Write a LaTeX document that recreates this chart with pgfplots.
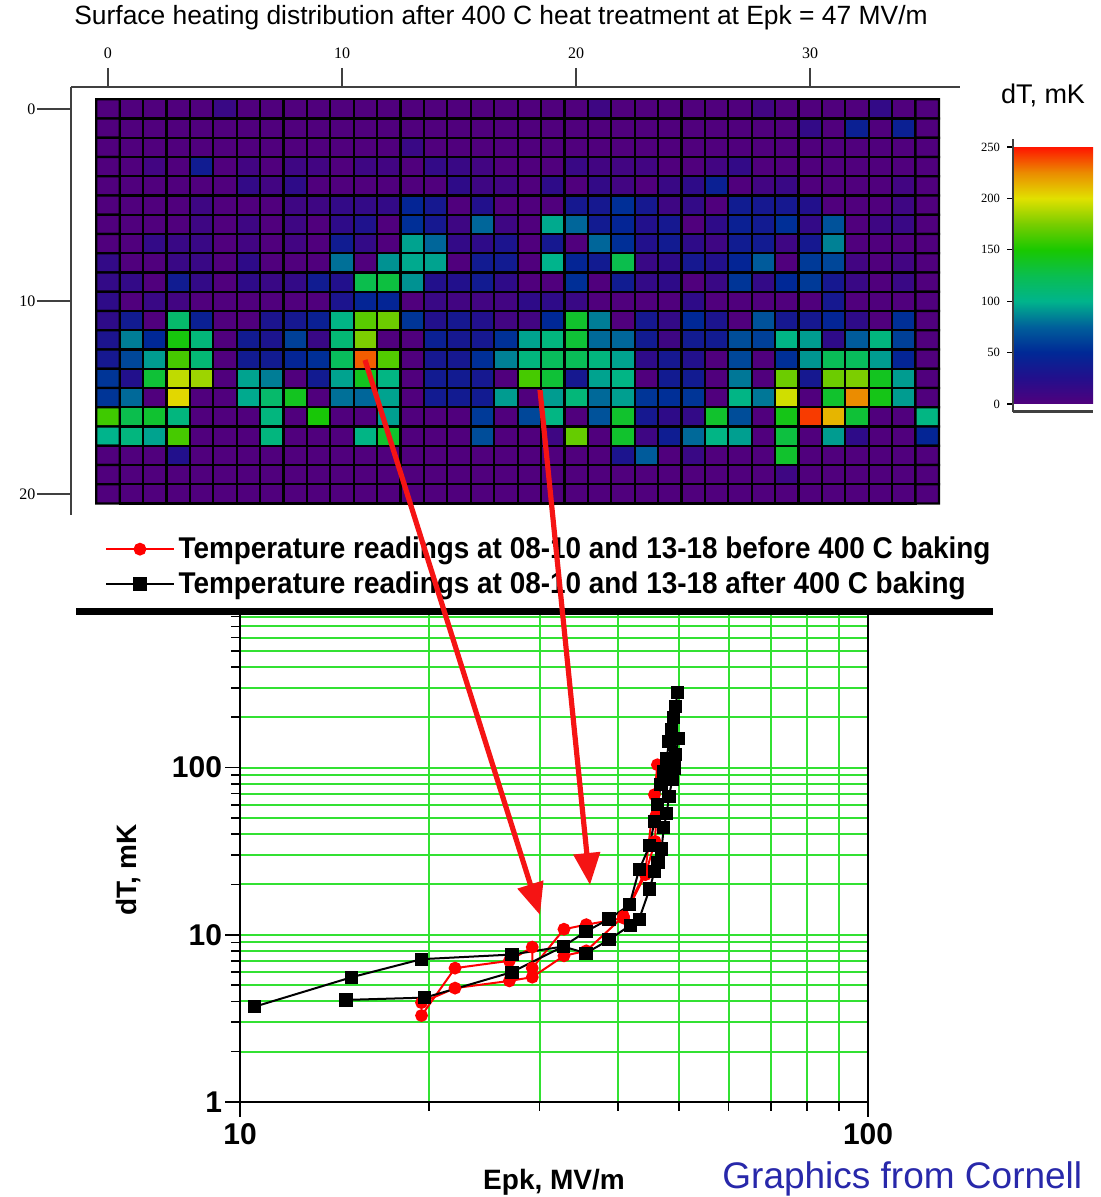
\documentclass[border=0pt]{standalone}
\usepackage{fontspec}
\setmainfont{Liberation Sans}
\newfontfamily\seriffont{Liberation Serif}
\newfontfamily\narrowfont[FakeStretch=0.93]{Liberation Sans}
\usepackage{pgfplots}
\pgfplotsset{compat=1.18}
\usetikzlibrary{arrows.meta}
\definecolor{gridgreen}{RGB}{50,225,50}
\definecolor{cornellblue}{RGB}{40,40,170}
\definecolor{arrred}{RGB}{245,20,20}
\pgfplotsset{colormap={heat}{rgb255=(80,0,125) rgb255=(35,15,140) rgb255=(0,40,150) rgb255=(0,95,155) rgb255=(0,180,140) rgb255=(10,190,80) rgb255=(25,200,0) rgb255=(120,205,0) rgb255=(225,225,0) rgb255=(235,140,0) rgb255=(255,20,0)}}
\begin{document}
\begin{tikzpicture}
\path[use as bounding box] (0pt,0pt) rectangle (550pt,598.5pt);
\begin{scope}
\clip (0pt,0pt) rectangle (550pt,598.5pt);
\node[font=\fontsize{13.2}{15}\selectfont] at (250.5pt,589.5pt) {Surface heating distribution after 400 C heat treatment at Epk = 47 MV/m};
\begin{axis}[at={(35.5pt,341pt)}, anchor=south west, scale only axis,
  width=444.5pt, height=214pt,
  xmin=-1.58, xmax=36.4, ymin=-21.1, ymax=1.14,
  axis x line=top, axis y line=left,
  x axis line style={-}, y axis line style={-},
  axis line style={line width=1pt, black!75},
  xtick={0,10,20,30}, ytick={0,-10,-20}, yticklabels={0,10,20},
  tick align=outside,
  xtick style={/pgfplots/major tick length=9.5pt, black!75, line width=1pt},
  ytick style={/pgfplots/major tick length=17pt, black!75, line width=1pt},
  ticklabel style={font=\seriffont\fontsize{8}{9}\selectfont},
  xticklabel style={yshift=6.5pt},
  yticklabel style={xshift=-10pt},
  /pgf/number format/assume math mode=true,
  colormap name=heat, point meta min=0, point meta max=250,
  colorbar, colorbar/width=40pt,
  colorbar style={
    at={(parent axis.north west)}, anchor=north west, xshift=462.5pt, yshift=-30pt,
    height=128.5pt,
    ytick={0,50,100,150,200,250},
    yticklabel pos=left, ytick pos=left,
    tick align=outside, major tick length=3pt,
    yticklabel style={font=\seriffont\fontsize{6.3}{7}\selectfont},
    /pgf/number format/assume math mode=true,
    axis line style={draw=none},
    ytick style={draw=black, line width=0.6pt},
    after end axis/.code={\draw[black!75, line width=1.2pt] (rel axis cs:0,-0.03) -- (rel axis cs:0,1.03); \draw[black!75, line width=1.2pt] (rel axis cs:0,-0.03) -- (rel axis cs:1,-0.03);}
  }]
\addplot[matrix plot*, mesh/cols=36, draw=black, line width=1.1pt, point meta=\thisrow{c}]
 table[row sep=\\, x expr={\coordindex-36*floor((\coordindex+0.5)/36)}, y expr={-floor((\coordindex+0.5)/36)}] {
c\\
0\\0\\0\\0\\0\\13\\0\\0\\0\\0\\0\\0\\0\\0\\0\\0\\0\\0\\0\\0\\0\\10\\0\\0\\0\\0\\0\\0\\8\\0\\0\\0\\0\\16\\0\\0\\
0\\0\\0\\0\\0\\0\\0\\0\\0\\0\\0\\0\\0\\0\\0\\0\\0\\0\\0\\0\\0\\0\\0\\0\\0\\0\\0\\0\\0\\0\\16\\0\\42\\0\\42\\0\\
0\\0\\0\\0\\0\\0\\0\\0\\0\\0\\0\\0\\0\\13\\0\\0\\0\\0\\0\\0\\0\\0\\0\\0\\0\\0\\0\\0\\0\\0\\0\\0\\0\\0\\0\\0\\
0\\0\\8\\0\\38\\0\\8\\0\\10\\8\\0\\10\\8\\0\\16\\13\\8\\0\\0\\0\\13\\8\\8\\8\\0\\0\\8\\16\\0\\0\\0\\0\\0\\0\\0\\0\\
0\\0\\0\\0\\0\\0\\16\\8\\19\\0\\0\\0\\0\\0\\0\\19\\10\\8\\0\\19\\0\\16\\8\\0\\13\\19\\42\\0\\8\\13\\0\\0\\0\\0\\8\\0\\
0\\0\\0\\0\\10\\0\\0\\0\\10\\10\\16\\16\\16\\47\\34\\0\\26\\0\\0\\0\\34\\34\\53\\34\\10\\16\\0\\38\\34\\34\\26\\0\\0\\0\\10\\0\\
0\\0\\0\\0\\10\\0\\10\\0\\10\\0\\19\\28\\0\\53\\34\\10\\77\\10\\0\\97\\77\\37\\47\\26\\34\\0\\19\\42\\37\\53\\16\\69\\0\\10\\13\\0\\
0\\0\\16\\13\\13\\0\\8\\0\\8\\0\\38\\16\\0\\95\\77\\16\\19\\30\\0\\34\\0\\77\\53\\26\\37\\19\\10\\38\\37\\10\\34\\85\\0\\0\\0\\0\\
16\\0\\0\\13\\13\\0\\19\\0\\0\\0\\80\\0\\90\\97\\95\\0\\37\\37\\0\\100\\47\\37\\126\\13\\19\\34\\26\\47\\73\\0\\58\\64\\8\\0\\8\\0\\
16\\16\\0\\38\\16\\0\\19\\13\\16\\38\\26\\126\\130\\90\\26\\26\\37\\19\\0\\0\\53\\0\\38\\16\\19\\0\\13\\56\\16\\50\\58\\34\\13\\0\\13\\0\\
19\\0\\13\\8\\0\\0\\0\\0\\0\\0\\30\\47\\47\\0\\13\\8\\8\\8\\19\\19\\13\\0\\0\\0\\0\\19\\0\\0\\0\\0\\0\\34\\0\\0\\0\\0\\
19\\37\\0\\114\\42\\0\\0\\30\\34\\42\\103\\167\\172\\56\\26\\34\\26\\8\\8\\50\\136\\84\\0\\34\\16\\50\\30\\0\\69\\34\\34\\47\\19\\0\\53\\0\\
30\\84\\50\\146\\108\\0\\37\\30\\61\\13\\110\\176\\0\\0\\42\\34\\34\\54\\95\\106\\133\\78\\77\\37\\10\\37\\37\\67\\61\\103\\93\\19\\73\\106\\61\\0\\
34\\64\\93\\162\\110\\0\\37\\37\\47\\53\\120\\235\\165\\0\\34\\34\\53\\85\\106\\120\\122\\106\\95\\19\\34\\26\\0\\64\\0\\53\\91\\122\\120\\93\\47\\0\\
56\\26\\133\\192\\184\\0\\95\\84\\0\\37\\95\\140\\104\\0\\37\\37\\34\\0\\162\\133\\34\\95\\103\\0\\37\\37\\0\\82\\0\\172\\34\\172\\176\\140\\93\\0\\
56\\78\\0\\203\\0\\0\\97\\114\\140\\0\\80\\77\\95\\0\\37\\37\\37\\93\\0\\93\\108\\78\\94\\56\\53\\56\\0\\103\\82\\196\\0\\136\\225\\143\\93\\0\\
160\\126\\135\\106\\0\\0\\0\\106\\0\\148\\0\\0\\94\\0\\0\\0\\58\\0\\64\\104\\0\\69\\136\\34\\19\\16\\136\\67\\0\\143\\242\\213\\133\\0\\0\\104\\
100\\106\\95\\162\\0\\0\\0\\106\\0\\0\\0\\103\\136\\0\\0\\0\\67\\0\\0\\10\\170\\0\\136\\10\\39\\78\\103\\94\\0\\130\\0\\93\\19\\0\\0\\47\\
0\\0\\0\\26\\0\\0\\0\\0\\0\\0\\0\\0\\0\\0\\0\\0\\0\\0\\0\\0\\0\\0\\30\\73\\0\\13\\0\\0\\0\\136\\0\\0\\0\\0\\0\\0\\
0\\0\\0\\0\\0\\0\\0\\0\\0\\0\\0\\0\\0\\0\\0\\0\\0\\0\\0\\0\\0\\0\\0\\0\\0\\0\\0\\0\\0\\10\\0\\0\\0\\0\\0\\0\\
0\\0\\0\\0\\0\\0\\0\\0\\0\\0\\0\\0\\0\\0\\0\\0\\0\\0\\0\\0\\0\\0\\0\\0\\0\\0\\0\\0\\0\\0\\0\\0\\0\\0\\0\\0\\
};
\end{axis}
\node[font=\fontsize{13.5}{15}\selectfont] at (521.5pt,551pt) {dT, mK};
\begin{axis}[at={(120pt,47.5pt)}, anchor=south west, scale only axis,
  width=314pt, height=245.3pt,
  xmode=log, ymode=log, xmin=10, xmax=100, ymin=1, ymax=860,
  log ticks with fixed point, xtick={10,100}, ytick={1,10,100},
  minor xtick={20,30,40,50,60,70,80,90},
  minor ytick={2,3,4,5,6,7,8,9,20,30,40,50,60,70,80,90,200,300,400,500,600,700,800},
  grid=both,
  major grid style={draw=gridgreen, line width=1pt},
  minor grid style={draw=gridgreen, line width=1pt},
  axis line style={line width=0.9pt, black},
  tick align=outside, xtick pos=bottom, ytick pos=left,
  major tick length=7.5pt, minor tick length=4.5pt,
  major tick style={black, line width=0.8pt},
  minor tick style={black, line width=0.8pt},
  ticklabel style={font=\bfseries\fontsize{15}{15}\selectfont},
  yticklabel style={xshift=2pt},
  /pgf/number format/assume math mode=true,
  xlabel={Epk, MV/m}, ylabel={dT, mK},
  label style={font=\bfseries\fontsize{14}{14}\selectfont},
  xlabel style={at={(axis description cs:0.5,-0.163)}, anchor=center},
  ylabel style={at={(axis description cs:-0.178,0.473)}, anchor=center},
  legend style={at={(axis description cs:-0.215,1.161)}, anchor=north west, draw=none, fill=none,
    font=\narrowfont\bfseries\fontsize{15}{17}\selectfont, row sep=1pt, inner sep=0pt,
    cells={anchor=west}},
  legend image code/.code={\draw[#1, mark=none] (0cm,0cm) -- (1.18cm,0cm); \path[#1] plot coordinates {(0.59cm,0cm)};}
]
\addplot[red, line width=1pt, mark=*, mark size=2.7pt, mark options={fill=red, draw=red}]
 coordinates {(19.46,3.29) (22.0,6.32) (26.85,6.99) (29.2,8.44) (29.2,6.32) (32.8,10.8) (35.6,11.5) (40.8,12.6) (44.2,22.9) (45.8,36.2) (46.0,52.3)};
\addlegendentry{Temperature readings at 08-10 and 13-18 before 400 C baking}
\addplot[red, line width=1pt, mark=*, mark size=2.7pt, mark options={fill=red, draw=red}, forget plot]
 coordinates {(19.46,3.93) (22.0,4.80) (26.85,5.30) (29.2,5.58) (32.8,7.49) (35.6,8.02) (40.8,12.9) (44.2,23.9) (45.7,68.9) (46.2,104)};
\addplot[black, line width=1pt, mark=square*, mark size=2.8pt, mark options={fill=black}]
 coordinates {(10.56,3.72) (15.07,5.58) (19.46,7.15) (27.1,7.62) (32.7,8.51) (35.56,7.77) (38.7,9.33) (41.8,11.4) (43.2,12.4) (44.9,18.8) (45.7,23.9) (46.3,27.1) (46.9,32.6) (47.3,43.9) (47.8,53.0) (48.2,67.3) (48.8,84.7) (49.1,99.6) (49.4,120) (49.9,149)};
\addlegendentry{Temperature readings at 08-10 and 13-18 after 400 C baking}
\addplot[black, line width=1pt, mark=square*, mark size=2.8pt, mark options={fill=black}, forget plot]
 coordinates {(14.75,4.08) (19.7,4.21) (27.1,5.98) (32.7,8.51) (35.56,10.47) (38.7,12.42) (41.7,15.1) (43.2,24.5) (44.9,34.1) (45.7,47.7) (46.2,60) (46.8,79.1) (47.3,95) (47.8,113) (48.2,143) (48.7,169) (49.0,200) (49.4,231) (49.7,282)};
\end{axis}
\draw[line width=3.5pt] (38pt,292.5pt) -- (496.5pt,292.5pt);
\draw[arrred, line width=2.6pt, -{Triangle[length=16pt,width=13pt]}] (182.5pt,418.5pt) -- (270pt,141pt);
\draw[arrred, line width=2.6pt, -{Triangle[length=16pt,width=13pt]}] (270pt,403.5pt) -- (295pt,156pt);
\node[anchor=base west, font=\fontsize{18.5}{20}\selectfont, text=cornellblue, inner sep=0pt] at (361pt,4.2pt) {Graphics from Cornell};
\end{scope}
\end{tikzpicture}
\end{document}
